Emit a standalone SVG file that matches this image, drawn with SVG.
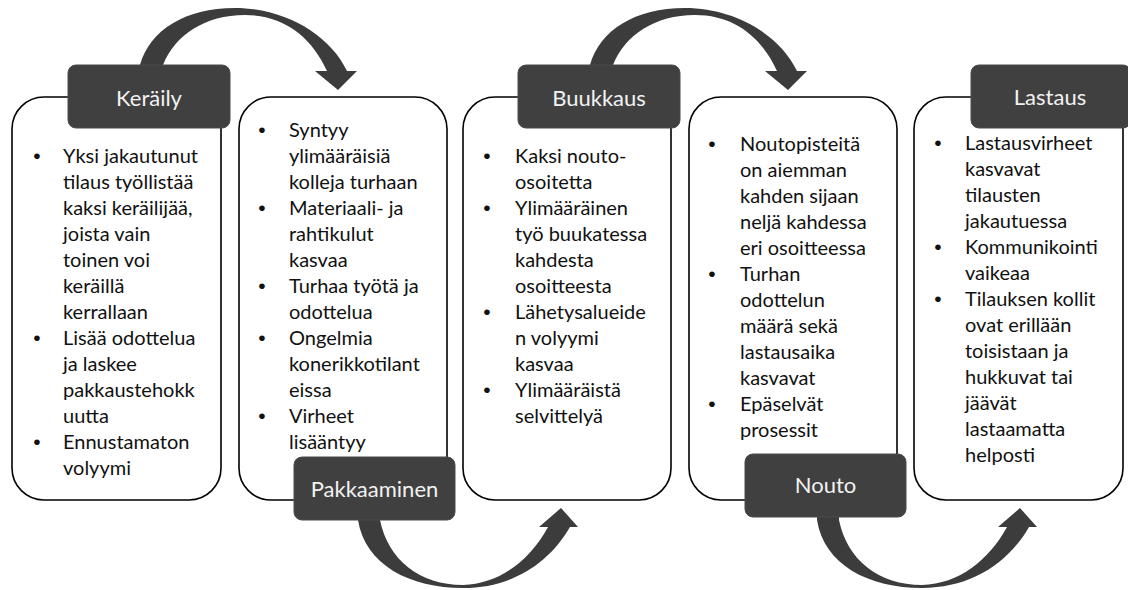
<svg xmlns="http://www.w3.org/2000/svg" width="1128" height="590" viewBox="0 0 1128 590">
  <style>
    .box { fill: #ffffff; stroke: #000000; stroke-width: 1.6; }
    .tab { fill: #404040; stroke: #4a4a4a; stroke-width: 1; }
    .tab-label { font-family: Lato, "Liberation Sans", sans-serif; font-size: 22px; fill: #f2f2f2; text-anchor: middle; }
    .body { font-family: Lato, "Liberation Sans", sans-serif; font-size: 20px; fill: #111111; }
    .bullet { font-family: "Liberation Sans", sans-serif; font-size: 21px; fill: #111111; text-anchor: middle; }
    .flow { fill: #3c3c3c; }
  </style>
  <defs>
    <!-- curved arrow over the top, tail at left, head pointing down -->
    <path id="arc-over" d="M140,72 L140,65 C150,30 185,8 235,8 C285,8 330,35 347,71 L357,71 L338,90 L315,71 L327,71 C312,38 285,15 245,15 C205,15 175,35 163,65 L163,72 Z"/>
    <!-- curved arrow underneath, tail at left, head pointing up -->
    <path id="arc-under" d="M358,514 L358,520 C365,565 410,588 463,588 C510,588 548,565 570,527 L578,527 L561,508 L539,527 L548,527 C530,560 500,584 463,585 C420,585 388,560 380,520 L380,514 Z"/>
  </defs>

  <!-- connectors -->
  <g id="connectors">
    <use href="#arc-over" class="flow"/>
    <use href="#arc-under" class="flow"/>
    <use href="#arc-over" class="flow" x="450"/>
    <use href="#arc-under" class="flow" x="459"/>
  </g>

  <!-- Keräily -->
  <g id="node-keraily">
    <rect class="box" x="12" y="97" width="209" height="403" rx="32" ry="32"/>
    <rect class="tab" x="68" y="65" width="162" height="63" rx="8" ry="8"/>
    <text class="tab-label" x="149" y="106">Keräily</text>
    <text class="bullet" x="37" y="163">•</text>
    <text class="bullet" x="37" y="345">•</text>
    <text class="bullet" x="37" y="449">•</text>
    <text class="body" x="63" y="163">
      <tspan x="63">Yksi jakautunut</tspan>
      <tspan x="63" dy="26">tilaus työllistää</tspan>
      <tspan x="63" dy="26">kaksi keräilijää,</tspan>
      <tspan x="63" dy="26">joista vain</tspan>
      <tspan x="63" dy="26">toinen voi</tspan>
      <tspan x="63" dy="26">keräillä</tspan>
      <tspan x="63" dy="26">kerrallaan</tspan>
      <tspan x="63" dy="26">Lisää odottelua</tspan>
      <tspan x="63" dy="26">ja laskee</tspan>
      <tspan x="63" dy="26">pakkaustehokk</tspan>
      <tspan x="63" dy="26">uutta</tspan>
      <tspan x="63" dy="26">Ennustamaton</tspan>
      <tspan x="63" dy="26">volyymi</tspan>
    </text>
  </g>

  <!-- Pakkaaminen -->
  <g id="node-pakkaaminen">
    <rect class="box" x="239" y="97" width="208" height="403" rx="32" ry="32"/>
    <text class="bullet" x="262" y="137">•</text>
    <text class="bullet" x="262" y="215">•</text>
    <text class="bullet" x="262" y="293">•</text>
    <text class="bullet" x="262" y="345">•</text>
    <text class="bullet" x="262" y="423">•</text>
    <text class="body" x="289" y="137">
      <tspan x="289">Syntyy</tspan>
      <tspan x="289" dy="26">ylimääräisiä</tspan>
      <tspan x="289" dy="26">kolleja turhaan</tspan>
      <tspan x="289" dy="26">Materiaali- ja</tspan>
      <tspan x="289" dy="26">rahtikulut</tspan>
      <tspan x="289" dy="26">kasvaa</tspan>
      <tspan x="289" dy="26">Turhaa työtä ja</tspan>
      <tspan x="289" dy="26">odottelua</tspan>
      <tspan x="289" dy="26">Ongelmia</tspan>
      <tspan x="289" dy="26">konerikkotilant</tspan>
      <tspan x="289" dy="26">eissa</tspan>
      <tspan x="289" dy="26">Virheet</tspan>
      <tspan x="289" dy="26">lisääntyy</tspan>
    </text>
    <rect class="tab" x="294" y="457" width="161" height="63" rx="8" ry="8"/>
    <text class="tab-label" x="374.5" y="497">Pakkaaminen</text>
  </g>

  <!-- Buukkaus -->
  <g id="node-buukkaus">
    <rect class="box" x="463" y="97" width="208" height="403" rx="32" ry="32"/>
    <rect class="tab" x="518" y="65" width="162" height="63" rx="8" ry="8"/>
    <text class="tab-label" x="599" y="106">Buukkaus</text>
    <text class="bullet" x="487" y="163">•</text>
    <text class="bullet" x="487" y="215">•</text>
    <text class="bullet" x="487" y="319">•</text>
    <text class="bullet" x="487" y="397">•</text>
    <text class="body" x="515" y="163">
      <tspan x="515">Kaksi nouto-</tspan>
      <tspan x="515" dy="26">osoitetta</tspan>
      <tspan x="515" dy="26">Ylimääräinen</tspan>
      <tspan x="515" dy="26">työ buukatessa</tspan>
      <tspan x="515" dy="26">kahdesta</tspan>
      <tspan x="515" dy="26">osoitteesta</tspan>
      <tspan x="515" dy="26">Lähetysalueide</tspan>
      <tspan x="515" dy="26">n volyymi</tspan>
      <tspan x="515" dy="26">kasvaa</tspan>
      <tspan x="515" dy="26">Ylimääräistä</tspan>
      <tspan x="515" dy="26">selvittelyä</tspan>
    </text>
  </g>

  <!-- Nouto -->
  <g id="node-nouto">
    <rect class="box" x="689" y="97" width="208" height="403" rx="32" ry="32"/>
    <text class="bullet" x="712" y="151">•</text>
    <text class="bullet" x="712" y="281">•</text>
    <text class="bullet" x="712" y="411">•</text>
    <text class="body" x="740" y="151">
      <tspan x="740">Noutopisteitä</tspan>
      <tspan x="740" dy="26">on aiemman</tspan>
      <tspan x="740" dy="26">kahden sijaan</tspan>
      <tspan x="740" dy="26">neljä kahdessa</tspan>
      <tspan x="740" dy="26">eri osoitteessa</tspan>
      <tspan x="740" dy="26">Turhan</tspan>
      <tspan x="740" dy="26">odottelun</tspan>
      <tspan x="740" dy="26">määrä sekä</tspan>
      <tspan x="740" dy="26">lastausaika</tspan>
      <tspan x="740" dy="26">kasvavat</tspan>
      <tspan x="740" dy="26">Epäselvät</tspan>
      <tspan x="740" dy="26">prosessit</tspan>
    </text>
    <rect class="tab" x="745" y="454" width="161" height="63" rx="8" ry="8"/>
    <text class="tab-label" x="825.5" y="493">Nouto</text>
  </g>

  <!-- Lastaus -->
  <g id="node-lastaus">
    <rect class="box" x="914" y="97" width="209" height="403" rx="32" ry="32"/>
    <rect class="tab" x="971" y="65" width="160" height="63" rx="8" ry="8"/>
    <text class="tab-label" x="1050" y="105">Lastaus</text>
    <text class="bullet" x="938" y="150">•</text>
    <text class="bullet" x="938" y="254">•</text>
    <text class="bullet" x="938" y="306">•</text>
    <text class="body" x="965" y="150">
      <tspan x="965">Lastausvirheet</tspan>
      <tspan x="965" dy="26">kasvavat</tspan>
      <tspan x="965" dy="26">tilausten</tspan>
      <tspan x="965" dy="26">jakautuessa</tspan>
      <tspan x="965" dy="26">Kommunikointi</tspan>
      <tspan x="965" dy="26">vaikeaa</tspan>
      <tspan x="965" dy="26">Tilauksen kollit</tspan>
      <tspan x="965" dy="26">ovat erillään</tspan>
      <tspan x="965" dy="26">toisistaan ja</tspan>
      <tspan x="965" dy="26">hukkuvat tai</tspan>
      <tspan x="965" dy="26">jäävät</tspan>
      <tspan x="965" dy="26">lastaamatta</tspan>
      <tspan x="965" dy="26">helposti</tspan>
    </text>
  </g>
</svg>
